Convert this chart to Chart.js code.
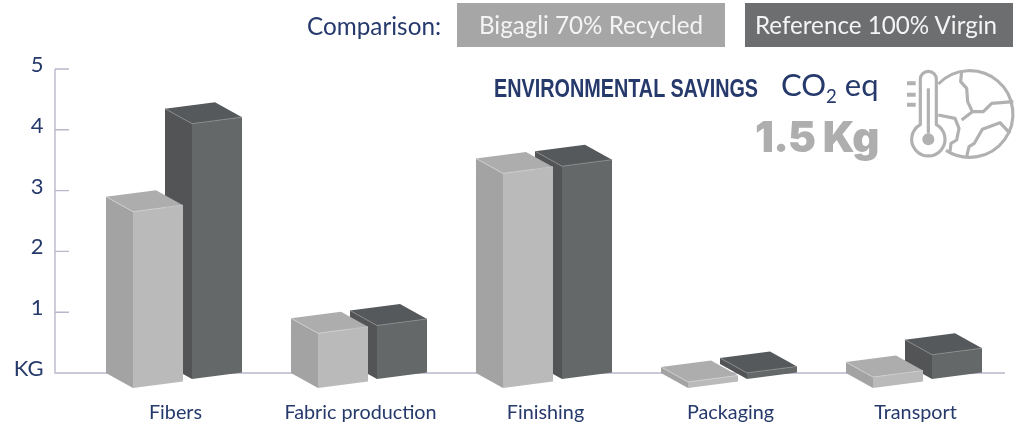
<!DOCTYPE html>
<html>
<head>
<meta charset="utf-8">
<title>Environmental savings</title>
<script src="https://cdn.jsdelivr.net/npm/chart.js@4"></script>
<style>
  html, body { margin: 0; background: #fff; }
  #wrap { position: relative; width: 1035px; height: 429px; overflow: hidden; font-family: Lato, sans-serif; color: #25396b; }
  #wrap canvas { position: absolute; left: 0; top: 0; }
  .txt { position: absolute; white-space: nowrap; }
  .chip { position: absolute; top: 3px; height: 44px; line-height: 44px; color: #f4f4f4; font-size: 24.2px; text-align: center; width: 268px; box-sizing: border-box; }
  sub { font-size: 60%; line-height: 0; }
</style>
</head>
<body>
<div id="wrap">
  <canvas id="chart" width="1035" height="429"></canvas>
  <div class="txt" style="left:307px;top:11px;font-size:24.3px;line-height:30px">Comparison:</div>
  <div class="chip" style="left:457px;background:#a6a6a6">Bigagli 70% Recycled</div>
  <div class="chip" style="left:745px;padding-right:6px;background:#6d6e70">Reference 100% Virgin</div>
  <div class="txt" style="left:494px;top:73px;font:bold 25.4px/30px 'Liberation Sans',sans-serif;transform:scaleX(.78);transform-origin:left center">ENVIRONMENTAL SAVINGS</div>
  <div class="txt" style="left:781px;top:66px;font-size:31px;line-height:36px">CO<sub>2</sub> eq</div>
  <div class="txt" style="left:755px;top:107px;font:900 42px/60px Inter,sans-serif;letter-spacing:-0.8px;color:#aeaeae">1.5 Kg</div>
  <svg class="txt" style="left:895px;top:60px" width="130" height="120" viewBox="0 0 390 360" fill="none" stroke="#b1b1b1" stroke-width="9.5" stroke-linejoin="round">
    <path d="M130 72 A130 130 0 1 1 153 271"/>
    <path d="M76 194 V58 A24 24 0 0 1 124 58 V194 A50 50 0 1 1 76 194 Z"/>
    <path d="M100 85 V220"/>
    <circle cx="100" cy="238" r="18" fill="#b1b1b1" stroke="none"/>
    <path d="M36 70 H62 M36 104 H62 M36 134 H62" stroke-width="12"/>
    <path d="M200 32 L197 65 L215 85 L218 125 L232 155 L265 155 L290 130 L355 125"/>
    <path d="M232 155 L200 180 M130 165 L180 175 L192 205 L185 240 L168 250 L165 275"/>
    <path d="M215 290 L222 260 L238 250 L262 208 L315 188 L345 220"/>
  </svg>
</div>
<script>
const categories = ["Fibers", "Fabric production", "Finishing", "Packaging", "Transport"];
const bigagli = [2.9, 0.9, 3.53, 0.1, 0.18];
const reference = [4.2, 0.88, 3.5, 0.1, 0.4];
const yTicks = [0, 1, 2, 3, 4, 5];

const navy = "#25396b";
const axisColor = "#b9b8cb";
const lightFaces = { front: "#bababa", side: "#a3a3a3", top: "#adadad", edge: "#d0d0d0" };
const darkFaces = { front: "#656868", side: "#535456", top: "#56595b", edge: "#8a8c8c" };

function fillFace(ctx, pts, color) {
  ctx.beginPath();
  pts.forEach((p, i) => (i ? ctx.lineTo(p[0], p[1]) : ctx.moveTo(p[0], p[1])));
  ctx.closePath();
  ctx.fillStyle = color;
  ctx.fill();
}

// draws one bar as a box, the height comes from the bar element the library laid out
function drawBox(ctx, bar, faces, shift) {
  const depthX = 27, depthY = 15, slope = 6.5;
  const h = bar.base - bar.y;
  const left = bar.x - bar.width / 2;
  const front = left + depthX;
  const right = left + bar.width;
  const leftY = bar.base + shift;
  const frontY = leftY + depthY;
  const rightY = frontY - slope;

  fillFace(ctx, [[left, leftY], [front, frontY], [front, frontY - h], [left, leftY - h]], faces.side);
  fillFace(ctx, [[front, frontY], [right, rightY], [right, rightY - h], [front, frontY - h]], faces.front);
  fillFace(ctx, [[left, leftY - h], [right - depthX, rightY - h - depthY], [right, rightY - h], [front, frontY - h]], faces.top);

  ctx.beginPath();
  ctx.moveTo(left, leftY - h);
  ctx.lineTo(front, frontY - h);
  ctx.lineTo(right, rightY - h);
  ctx.strokeStyle = faces.edge;
  ctx.lineWidth = 0.8;
  ctx.stroke();
}

const boxBars = {
  id: "boxBars",
  beforeDatasetDraw(chart, args) {
    const ds = chart.data.datasets[args.index];
    args.meta.data.forEach((bar) => drawBox(chart.ctx, bar, ds.faces, ds.shift));
    return false;
  },
};

// axis lines start left of the category band, so they are stroked here from the y scale
const axisLines = {
  id: "axisLines",
  beforeDatasetsDraw(chart) {
    const { ctx, scales } = chart;
    const y = scales.y;
    const axisX = 55;
    ctx.save();
    ctx.strokeStyle = axisColor;
    ctx.lineWidth = 1.4;
    ctx.beginPath();
    ctx.moveTo(axisX, y.getPixelForValue(5));
    ctx.lineTo(axisX, y.getPixelForValue(0));
    ctx.lineTo(1005, y.getPixelForValue(0));
    yTicks.slice(1).forEach((t) => {
      ctx.moveTo(axisX, y.getPixelForValue(t));
      ctx.lineTo(axisX + 14, y.getPixelForValue(t));
    });
    ctx.stroke();
    ctx.restore();
  },
};

new Chart(document.getElementById("chart"), {
  type: "bar",
  data: {
    labels: categories,
    datasets: [
      { label: "Bigagli 70% Recycled", data: bigagli, backgroundColor: "#bababa", faces: lightFaces, shift: 0 },
      { label: "Reference 100% Virgin", data: reference, backgroundColor: "#656868", faces: darkFaces, shift: -9 },
    ],
  },
  options: {
    responsive: false,
    animation: false,
    devicePixelRatio: 1,
    categoryPercentage: 0.638,
    barPercentage: 1.305,
    layout: { padding: { top: 69, right: 28.5, bottom: 0, left: 0 } },
    plugins: { legend: { display: false }, tooltip: { enabled: false } },
    scales: {
      x: {
        grid: { display: false },
        border: { display: false },
        afterFit(s) { s.height = 56; },
        ticks: { color: navy, padding: 20, labelOffset: 1.5, maxRotation: 0, font: { family: "Lato", size: 19.8 } },
      },
      y: {
        min: 0,
        max: 5,
        grid: { display: false },
        border: { display: false },
        afterFit(s) { s.width = 81.5; },
        afterBuildTicks(s) { s.ticks = yTicks.map((v) => ({ value: v })); },
        ticks: {
          color: navy,
          padding: 30,
          labelOffset: -4,
          font: { family: "Lato", size: 22 },
          callback: (v) => (v === 0 ? "KG" : v),
        },
      },
    },
  },
  plugins: [boxBars, axisLines],
});
</script>
</body>
</html>
